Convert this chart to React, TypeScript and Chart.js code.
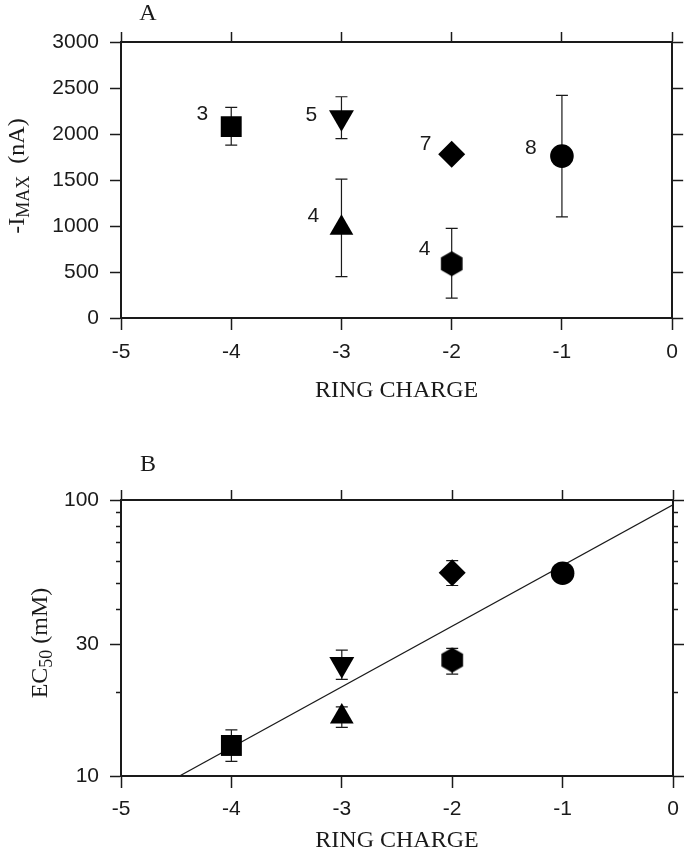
import React, { useEffect, useRef } from "react";
import { Chart, registerables } from "chart.js";

Chart.register(...registerables);

// ring charge of each construct, same order in both panels
const charges = [-4, -3, -3, -2, -2, -1];
// n for each construct (panel A)
const nLabels = ["3", "5", "4", "7", "4", "8"];

// panel A: -Imax (nA)
const imaxMean = [2080, 2180, 980, 1780, 590, 1760];
const imaxLow = [1880, 1950, 450, 1780, 215, 1100];
const imaxHigh = [2290, 2405, 1510, 1780, 975, 2420];

// panel B: EC50 (mM)
const ec50Mean = [12.9, 25.4, 16.4, 54.5, 26.3, 54.3];
const ec50Low = [11.3, 22.4, 15.0, 49.0, 23.4, 54.3];
const ec50High = [14.7, 28.6, 17.8, 60.3, 29.0, 54.3];

// fitted line for panel B
const fitCharge = [-4.47, 0];
const fitEc50 = [10, 96];

// axis ticks
const imaxTicks = [0, 500, 1000, 1500, 2000, 2500, 3000];
const ec50Major = [10, 30, 100];
const ec50Minor = [20, 40, 50, 60, 70, 80, 90];

const ink = "#1a1a1a";
const sans = "'Liberation Sans', Arial, sans-serif";
const serif = "'Liberation Serif', 'Times New Roman', serif";

function makeHexagon(r: number) {
  const c = document.createElement("canvas");
  const w = Math.ceil(r * Math.sqrt(3)) + 2;
  const h = Math.ceil(2 * r) + 2;
  c.width = w;
  c.height = h;
  const ctx = c.getContext("2d")!;
  ctx.fillStyle = "#000";
  ctx.beginPath();
  for (let i = 0; i < 6; i++) {
    const a = -Math.PI / 2 + (i * Math.PI) / 3;
    const px = w / 2 + r * Math.cos(a);
    const py = h / 2 + r * Math.sin(a);
    if (i === 0) ctx.moveTo(px, py);
    else ctx.lineTo(px, py);
  }
  ctx.closePath();
  ctx.fill();
  return c;
}

function drawRotatedTitle(ctx: CanvasRenderingContext2D, x: number, y: number, parts: { text: string; font: string; shift: number }[]) {
  ctx.save();
  ctx.translate(x, y);
  ctx.rotate(-Math.PI / 2);
  ctx.fillStyle = ink;
  ctx.textAlign = "left";
  ctx.textBaseline = "alphabetic";
  const widths = parts.map((p) => {
    ctx.font = p.font;
    return ctx.measureText(p.text).width;
  });
  let cur = -widths.reduce((a, b) => a + b, 0) / 2;
  parts.forEach((p, i) => {
    ctx.font = p.font;
    ctx.fillText(p.text, cur, p.shift);
    cur += widths[i];
  });
  ctx.restore();
}

function drawErrorBars(chart: any, lows: number[], highs: number[]) {
  const { ctx, scales } = chart;
  ctx.save();
  ctx.strokeStyle = ink;
  ctx.lineWidth = 1.2;
  charges.forEach((c, i) => {
    if (lows[i] === highs[i]) return;
    const x = scales.x.getPixelForValue(c);
    const y1 = scales.y.getPixelForValue(lows[i]);
    const y2 = scales.y.getPixelForValue(highs[i]);
    ctx.beginPath();
    ctx.moveTo(x, y1);
    ctx.lineTo(x, y2);
    ctx.moveTo(x - 6, y1);
    ctx.lineTo(x + 6, y1);
    ctx.moveTo(x - 6, y2);
    ctx.lineTo(x + 6, y2);
    ctx.stroke();
  });
  ctx.restore();
}

function drawLetter(ctx: CanvasRenderingContext2D, letter: string, x: number, y: number) {
  ctx.save();
  ctx.fillStyle = ink;
  ctx.font = `24px ${serif}`;
  ctx.textAlign = "center";
  ctx.textBaseline = "middle";
  ctx.fillText(letter, x, y);
  ctx.restore();
}

// where the n labels sit relative to their marker
const nOffsets = [
  [-29, -12],
  [-30, -2],
  [-28, -12],
  [-26, -10],
  [-27, -15],
  [-31, -8],
];

const plotA = {
  id: "plotA",
  beforeDatasetsDraw(chart: any) {
    drawErrorBars(chart, imaxLow, imaxHigh);
  },
  afterDraw(chart: any) {
    const { ctx, scales } = chart;
    ctx.save();
    ctx.fillStyle = ink;
    ctx.font = `21px ${sans}`;
    ctx.textAlign = "center";
    ctx.textBaseline = "middle";
    nLabels.forEach((t, i) => {
      const x = scales.x.getPixelForValue(charges[i]) + nOffsets[i][0];
      const y = scales.y.getPixelForValue(imaxMean[i]) + nOffsets[i][1];
      ctx.fillText(t, x, y);
    });
    ctx.restore();
    drawLetter(ctx, "A", 148, 14);
    drawRotatedTitle(ctx, 24, 176, [
      { text: "-I", font: `24px ${serif}`, shift: 0 },
      { text: "MAX", font: `18px ${serif}`, shift: 5 },
      { text: "  (nA)", font: `24px ${serif}`, shift: 0 },
    ]);
  },
};

const plotB = {
  id: "plotB",
  beforeDatasetsDraw(chart: any) {
    drawErrorBars(chart, ec50Low, ec50High);
  },
  afterDraw(chart: any) {
    const { ctx } = chart;
    drawLetter(ctx, "B", 148, 35);
    drawRotatedTitle(ctx, 47, 213, [
      { text: "EC", font: `24px ${serif}`, shift: 0 },
      { text: "50", font: `18px ${serif}`, shift: 5 },
      { text: " (mM)", font: `24px ${serif}`, shift: 0 },
    ]);
  },
};

const fixW = (w: number) => (s: any) => {
  s.width = w;
};
const fixH = (h: number) => (s: any) => {
  s.height = h;
};
const setTicks = (values: number[]) => (s: any) => {
  s.ticks = values.map((value) => ({ value }));
};

function edge(tickLength: number, showBorder = true) {
  return {
    grid: { drawOnChartArea: false, tickLength, tickWidth: 1.5, tickColor: ink },
    border: { display: showBorder, width: 2, color: ink },
  };
}

const tickFont = { family: sans, size: 21 };
const asText = (v: any) => String(v);

function xScales(bottomHeight: number, topHeight: number, tickPad: number, titlePad: number) {
  return {
    x: {
      type: "linear",
      position: "bottom",
      min: -5,
      max: 0,
      ticks: { stepSize: 1, padding: tickPad, font: tickFont, color: ink, callback: asText },
      ...edge(12),
      title: {
        display: true,
        text: "RING CHARGE",
        color: ink,
        font: { family: serif, size: 24, lineHeight: 1 },
        padding: { top: 0, bottom: titlePad },
      },
      afterFit: fixH(bottomHeight),
    },
    xTop: {
      type: "linear",
      position: "top",
      min: -5,
      max: 0,
      ticks: { stepSize: 1, display: false },
      ...edge(10),
      afterFit: fixH(topHeight),
    },
  };
}

const markerStyles = (hex: HTMLCanvasElement) => ({
  pointStyle: ["rect", "triangle", "triangle", "rectRot", hex, "circle"],
  rotation: [0, 180, 0, 0, 0, 0],
  pointRadius: [14.8, 14.4, 13.7, 13.5, 12.5, 11.8],
  pointBackgroundColor: "#000",
  pointBorderWidth: 0,
});

export default function App() {
  const refA = useRef<HTMLCanvasElement | null>(null);
  const refB = useRef<HTMLCanvasElement | null>(null);

  useEffect(() => {
    if (!refA.current || !refB.current) return;
    const hex = makeHexagon(12.5);

    const chartA = new Chart(refA.current, {
      type: "scatter",
      data: {
        datasets: [
          {
            data: charges.map((c, i) => ({ x: c, y: imaxMean[i] })),
            ...markerStyles(hex),
          } as any,
        ],
      },
      options: {
        responsive: false,
        animation: false,
        events: [],
        layout: { padding: 0 },
        plugins: { legend: { display: false }, tooltip: { enabled: false } },
        scales: {
          ...xScales(112, 42, 10, 27),
          y: {
            type: "linear",
            position: "left",
            weight: 1,
            min: 0,
            max: 3000,
            afterBuildTicks: setTicks(imaxTicks),
            ticks: { padding: 11, font: tickFont, color: ink, callback: asText },
            ...edge(11),
            afterFit: fixW(121),
          },
          yR: {
            type: "linear",
            position: "right",
            weight: 1,
            min: 0,
            max: 3000,
            afterBuildTicks: setTicks(imaxTicks),
            ticks: { display: false },
            ...edge(11),
            afterFit: fixW(15),
          },
        } as any,
      },
      plugins: [plotA],
    });

    const logAxis = (position: string, weight: number, values: number[], len: number, width: number, labels: boolean, border: boolean) => ({
      type: "logarithmic",
      position,
      weight,
      min: 10,
      max: 100,
      afterBuildTicks: setTicks(values),
      ticks: labels
        ? { padding: 11, font: tickFont, color: ink, callback: asText }
        : { display: false },
      ...edge(len, border),
      afterFit: fixW(width),
    });

    const chartB = new Chart(refB.current, {
      type: "scatter",
      data: {
        datasets: [
          {
            data: charges.map((c, i) => ({ x: c, y: ec50Mean[i] })),
            ...markerStyles(hex),
            order: 1,
          } as any,
          {
            data: fitCharge.map((c, i) => ({ x: c, y: fitEc50[i] })),
            showLine: true,
            borderColor: ink,
            borderWidth: 1.2,
            pointRadius: 0,
            order: 2,
          },
        ],
      },
      options: {
        responsive: false,
        animation: false,
        events: [],
        layout: { padding: 0 },
        plugins: { legend: { display: false }, tooltip: { enabled: false } },
        scales: {
          ...xScales(77, 70, 9, 0),
          y: logAxis("left", 1, ec50Major, 11, 121, true, true),
          yMinL: logAxis("left", 0, ec50Minor, 5, 0, false, false),
          yR: logAxis("right", 1, ec50Major, 11, 15, false, true),
          yMinR: logAxis("right", 0, ec50Minor, 5, 0, false, false),
        } as any,
      },
      plugins: [plotB],
    });

    return () => {
      chartA.destroy();
      chartB.destroy();
    };
  }, []);

  return (
    <div style={{ position: "absolute", left: 0, top: 0, width: 688, height: 853, background: "#fff" }}>
      <canvas ref={refA} width={688} height={430} style={{ position: "absolute", left: 0, top: 0 }} />
      <canvas ref={refB} width={688} height={423} style={{ position: "absolute", left: 0, top: 430 }} />
    </div>
  );
}
